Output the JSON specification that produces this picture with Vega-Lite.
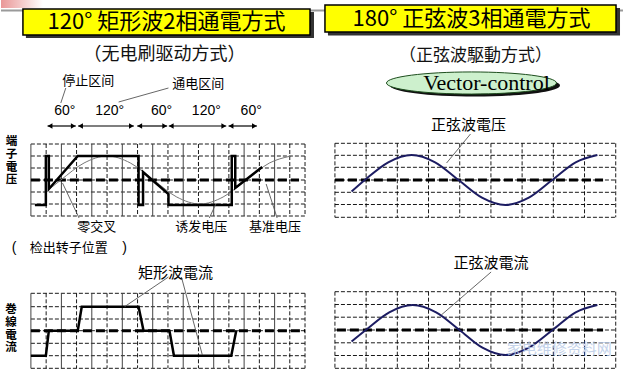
{
  "$schema": "https://vega.github.io/schema/vega-lite/v6.json",
  "width": 624,
  "height": 374,
  "autosize": {"type": "fit", "contains": "padding"},
  "padding": 0,
  "background": "white",
  "view": {"stroke": null},
  "datasets": {
    "shadows": [{"x": 25, "y": 12, "x2": 314, "y2": 38}, {"x": 328, "y": 8, "x2": 621, "y2": 35.5}],
    "boxes": [{"x": 22, "y": 9, "x2": 310, "y2": 35}, {"x": 325, "y": 5, "x2": 617, "y2": 32}],
    "topline": [{"x": 0, "x2": 624, "y": 10.5}],
    "deco": [{"x": 0, "x2": 42, "y": 0, "y2": 8}],
    "hgrid": [
      {"x": 30, "x2": 305, "y": 144}, {"x": 30, "x2": 305, "y": 156}, {"x": 30, "x2": 305, "y": 168}, {"x": 30, "x2": 305, "y": 180}, {"x": 30, "x2": 305, "y": 192}, {"x": 30, "x2": 305, "y": 204}, {"x": 30, "x2": 305, "y": 216},
      {"x": 30, "x2": 305, "y": 293.3}, {"x": 30, "x2": 305, "y": 306.7}, {"x": 30, "x2": 305, "y": 319}, {"x": 30, "x2": 305, "y": 330.7}, {"x": 30, "x2": 305, "y": 343.3}, {"x": 30, "x2": 305, "y": 355.7}, {"x": 30, "x2": 305, "y": 368.3},
      {"x": 335, "x2": 616.7, "y": 143.3}, {"x": 335, "x2": 616.7, "y": 155.3}, {"x": 335, "x2": 616.7, "y": 167.3}, {"x": 335, "x2": 616.7, "y": 180}, {"x": 335, "x2": 616.7, "y": 192.3}, {"x": 335, "x2": 616.7, "y": 204.5}, {"x": 335, "x2": 616.7, "y": 217.3},
      {"x": 335, "x2": 616.7, "y": 291.7}, {"x": 335, "x2": 616.7, "y": 304.5}, {"x": 335, "x2": 616.7, "y": 317.2}, {"x": 335, "x2": 616.7, "y": 330}, {"x": 335, "x2": 616.7, "y": 342.8}, {"x": 335, "x2": 616.7, "y": 355.5}, {"x": 335, "x2": 616.7, "y": 368.3}
    ],
    "vsolid": [
      {"x": 30, "y": 144, "y2": 216}, {"x": 60.6, "y": 144, "y2": 216}, {"x": 91.1, "y": 144, "y2": 216}, {"x": 121.7, "y": 144, "y2": 216}, {"x": 152.2, "y": 144, "y2": 216}, {"x": 182.8, "y": 144, "y2": 216}, {"x": 213.4, "y": 144, "y2": 216}, {"x": 243.9, "y": 144, "y2": 216}, {"x": 274.5, "y": 144, "y2": 216},
      {"x": 30, "y": 293.3, "y2": 368.3}, {"x": 60.6, "y": 293.3, "y2": 368.3}, {"x": 91.1, "y": 293.3, "y2": 368.3}, {"x": 121.7, "y": 293.3, "y2": 368.3}, {"x": 152.2, "y": 293.3, "y2": 368.3}, {"x": 182.8, "y": 293.3, "y2": 368.3}, {"x": 213.4, "y": 293.3, "y2": 368.3}, {"x": 243.9, "y": 293.3, "y2": 368.3}, {"x": 274.5, "y": 293.3, "y2": 368.3}
    ],
    "vdash": [
      {"x": 45.3, "y": 144, "y2": 216}, {"x": 75.8, "y": 144, "y2": 216}, {"x": 106.4, "y": 144, "y2": 216}, {"x": 137, "y": 144, "y2": 216}, {"x": 167.5, "y": 144, "y2": 216}, {"x": 198.1, "y": 144, "y2": 216}, {"x": 228.6, "y": 144, "y2": 216}, {"x": 259.2, "y": 144, "y2": 216}, {"x": 289.7, "y": 144, "y2": 216}, {"x": 305, "y": 144, "y2": 216},
      {"x": 45.3, "y": 293.3, "y2": 368.3}, {"x": 75.8, "y": 293.3, "y2": 368.3}, {"x": 106.4, "y": 293.3, "y2": 368.3}, {"x": 137, "y": 293.3, "y2": 368.3}, {"x": 167.5, "y": 293.3, "y2": 368.3}, {"x": 198.1, "y": 293.3, "y2": 368.3}, {"x": 228.6, "y": 293.3, "y2": 368.3}, {"x": 259.2, "y": 293.3, "y2": 368.3}, {"x": 289.7, "y": 293.3, "y2": 368.3}, {"x": 305, "y": 293.3, "y2": 368.3},
      {"x": 335, "y": 143.3, "y2": 217.3}, {"x": 366.3, "y": 143.3, "y2": 217.3}, {"x": 397.6, "y": 143.3, "y2": 217.3}, {"x": 428.9, "y": 143.3, "y2": 217.3}, {"x": 460.2, "y": 143.3, "y2": 217.3}, {"x": 491.5, "y": 143.3, "y2": 217.3}, {"x": 522.8, "y": 143.3, "y2": 217.3}, {"x": 554.1, "y": 143.3, "y2": 217.3}, {"x": 585.4, "y": 143.3, "y2": 217.3}, {"x": 616.7, "y": 143.3, "y2": 217.3},
      {"x": 335, "y": 291.7, "y2": 368.3}, {"x": 366.3, "y": 291.7, "y2": 368.3}, {"x": 397.6, "y": 291.7, "y2": 368.3}, {"x": 428.9, "y": 291.7, "y2": 368.3}, {"x": 460.2, "y": 291.7, "y2": 368.3}, {"x": 491.5, "y": 291.7, "y2": 368.3}, {"x": 522.8, "y": 291.7, "y2": 368.3}, {"x": 554.1, "y": 291.7, "y2": 368.3}, {"x": 585.4, "y": 291.7, "y2": 368.3}, {"x": 616.7, "y": 291.7, "y2": 368.3}
    ],
    "centers": [{"x": 30, "x2": 299, "y": 180}, {"x": 30, "x2": 305, "y": 330.7}, {"x": 335, "x2": 604, "y": 180}, {"x": 337, "x2": 604, "y": 330}],
    "refsine": [
      {"i": 0, "x": 48, "y": 189.5}, {"i": 1, "x": 60, "y": 180}, {"i": 2, "x": 83.3, "y": 163}, {"i": 3, "x": 106.5, "y": 156}, {"i": 4, "x": 129.8, "y": 163}, {"i": 5, "x": 153, "y": 180}, {"i": 6, "x": 176.3, "y": 197}, {"i": 7, "x": 199.5, "y": 204}, {"i": 8, "x": 222.8, "y": 197}, {"i": 9, "x": 246, "y": 180}, {"i": 10, "x": 269.3, "y": 163}, {"i": 11, "x": 290, "y": 156.2}
    ],
    "waveTL": [
      {"i": 0, "x": 34, "y": 205}, {"i": 1, "x": 45, "y": 205}, {"i": 2, "x": 45, "y": 156}, {"i": 3, "x": 48, "y": 156}, {"i": 4, "x": 48, "y": 189}, {"i": 5, "x": 77, "y": 156}, {"i": 6, "x": 138, "y": 156}, {"i": 7, "x": 138, "y": 205}, {"i": 8, "x": 142.5, "y": 205}, {"i": 9, "x": 142.5, "y": 172}, {"i": 10, "x": 168, "y": 194}, {"i": 11, "x": 168, "y": 205}, {"i": 12, "x": 231.5, "y": 205}, {"i": 13, "x": 231.5, "y": 156}, {"i": 14, "x": 235, "y": 156}, {"i": 15, "x": 235, "y": 188}, {"i": 16, "x": 262, "y": 167}
    ],
    "waveBL": [
      {"i": 0, "x": 30, "y": 355.7}, {"i": 1, "x": 45, "y": 355.7}, {"i": 2, "x": 48, "y": 330.7}, {"i": 3, "x": 77, "y": 330.7}, {"i": 4, "x": 81, "y": 306.7}, {"i": 5, "x": 138, "y": 306.7}, {"i": 6, "x": 143, "y": 330.7}, {"i": 7, "x": 169, "y": 330.7}, {"i": 8, "x": 173.5, "y": 355.7}, {"i": 9, "x": 231, "y": 355.7}, {"i": 10, "x": 236, "y": 330.7}
    ],
    "sines": [
      {"p": "v", "i": 0, "x": 351.7, "y": 191.5}, {"p": "v", "i": 1, "x": 365, "y": 180}, {"p": "v", "i": 2, "x": 388.5, "y": 162.3}, {"p": "v", "i": 3, "x": 412, "y": 155}, {"p": "v", "i": 4, "x": 435.5, "y": 162.3}, {"p": "v", "i": 5, "x": 459, "y": 180}, {"p": "v", "i": 6, "x": 482.5, "y": 197.7}, {"p": "v", "i": 7, "x": 506, "y": 205}, {"p": "v", "i": 8, "x": 529.5, "y": 197.7}, {"p": "v", "i": 9, "x": 553, "y": 180}, {"p": "v", "i": 10, "x": 576.5, "y": 162.3}, {"p": "v", "i": 11, "x": 598.3, "y": 155},
      {"p": "c", "i": 0, "x": 351.7, "y": 341.5}, {"p": "c", "i": 1, "x": 366, "y": 330}, {"p": "c", "i": 2, "x": 389.5, "y": 312.3}, {"p": "c", "i": 3, "x": 413, "y": 305}, {"p": "c", "i": 4, "x": 436.5, "y": 312.3}, {"p": "c", "i": 5, "x": 460, "y": 330}, {"p": "c", "i": 6, "x": 483, "y": 347.7}, {"p": "c", "i": 7, "x": 506, "y": 355}, {"p": "c", "i": 8, "x": 529.5, "y": 347.7}, {"p": "c", "i": 9, "x": 553.3, "y": 330}, {"p": "c", "i": 10, "x": 576.5, "y": 312.3}, {"p": "c", "i": 11, "x": 598.3, "y": 305}
    ],
    "leaders": [
      {"x": 65, "y": 88, "x2": 60, "y2": 103},
      {"x": 168, "y": 88, "x2": 118, "y2": 102},
      {"x": 61.7, "y": 183, "x2": 78.3, "y2": 218},
      {"x": 216, "y": 203, "x2": 209, "y2": 218},
      {"x": 266, "y": 184, "x2": 277, "y2": 218},
      {"x": 168, "y": 277, "x2": 124, "y2": 306.7},
      {"x": 181, "y": 277, "x2": 202, "y2": 355},
      {"x": 471, "y": 134, "x2": 447, "y2": 163},
      {"x": 491.7, "y": 272, "x2": 441.7, "y2": 315}
    ],
    "arrows": [
      {"x": 46.7, "x2": 75, "y": 126}, {"x": 77.3, "x2": 133.3, "y": 126}, {"x": 136.7, "x2": 166.7, "y": 126}, {"x": 168.3, "x2": 226, "y": 126}, {"x": 228.3, "x2": 256.7, "y": 126}
    ],
    "degrees": [
      {"t": "60°", "x": 64, "y": 111}, {"t": "120°", "x": 109, "y": 111}, {"t": "60°", "x": 161, "y": 111}, {"t": "120°", "x": 206, "y": 111}, {"t": "60°", "x": 251, "y": 111}
    ],
    "titles": [
      {"t": "120°  矩形波2相通電方式", "x": 166, "y": 22},
      {"t": "180°  正弦波3相通電方式", "x": 472, "y": 19}
    ],
    "subtitleL": [{"t": "（无电刷驱动方式）", "x": 164, "y": 55}],
    "subtitleR": [{"t": "（正弦波駆動方式）", "x": 476, "y": 56}],
    "small": [
      {"t": "停止区间", "x": 87.5, "y": 80.5},
      {"t": "通电区间", "x": 198, "y": 83.5},
      {"t": "零交叉", "x": 96, "y": 227},
      {"t": "诱发电压", "x": 201, "y": 227},
      {"t": "基准电压", "x": 275, "y": 227},
      {"t": "检出转子位置", "x": 68, "y": 248}
    ],
    "parens": [{"t": "(", "x": 13, "y": 248}, {"t": ")", "x": 124, "y": 248}],
    "mid": [
      {"t": "矩形波電流", "x": 175, "y": 272.5},
      {"t": "正弦波電压", "x": 469, "y": 125},
      {"t": "正弦波電流", "x": 491.5, "y": 262.5}
    ],
    "vert": [
      {"t": "端\n子\n電\n压", "x": 10.5, "y": 142},
      {"t": "巻\n線\n電\n流", "x": 10, "y": 310}
    ],
    "ellshadow": [{"x": 475.5, "y": 85.5}],
    "ellipse": [{"x": 472, "y": 83}],
    "vector": [{"t": "Vector-control", "x": 487, "y": 82.5}],
    "watermark": [{"t": "家电维修资料网", "x": 560, "y": 349}]
  },
  "encoding": {
    "x": {"field": "x", "type": "quantitative", "scale": {"domain": [0, 624], "nice": false, "zero": false}, "axis": null},
    "y": {"field": "y", "type": "quantitative", "scale": {"domain": [374, 0], "nice": false, "zero": false}, "axis": null}
  },
  "layer": [
    {"data": {"name": "deco"}, "mark": {"type": "rect", "color": {"gradient": "linear", "x1": 0, "y1": 0, "x2": 1, "y2": 0, "stops": [{"offset": 0, "color": "#e06a6a"}, {"offset": 1, "color": "#ffffff"}]}, "opacity": 0.7}, "encoding": {"x2": {"field": "x2"}, "y2": {"field": "y2"}}},
    {"data": {"name": "topline"}, "mark": {"type": "rule", "color": "#9a9a9a", "strokeWidth": 2}, "encoding": {"x2": {"field": "x2"}}},
    {"data": {"name": "shadows"}, "mark": {"type": "rect", "color": "#333333"}, "encoding": {"x2": {"field": "x2"}, "y2": {"field": "y2"}}},
    {"data": {"name": "boxes"}, "mark": {"type": "rect", "fill": "#ffff00", "stroke": "#000000", "strokeWidth": 1.5}, "encoding": {"x2": {"field": "x2"}, "y2": {"field": "y2"}}},
    {"data": {"name": "titles"}, "mark": {"type": "text", "font": "Noto Sans CJK JP", "fontSize": 22, "align": "center", "baseline": "middle", "color": "#000000"}, "encoding": {"text": {"field": "t"}}},
    {"data": {"name": "subtitleL"}, "mark": {"type": "text", "font": "Noto Sans CJK SC", "fontSize": 18, "align": "center", "baseline": "middle", "color": "#111111"}, "encoding": {"text": {"field": "t"}}},
    {"data": {"name": "subtitleR"}, "mark": {"type": "text", "font": "Noto Sans CJK JP", "fontSize": 17, "align": "center", "baseline": "middle", "color": "#111111"}, "encoding": {"text": {"field": "t"}}},
    {"data": {"name": "ellshadow"}, "mark": {"type": "point", "shape": "M-1,0A1,0.13,0,1,1,1,0A1,0.13,0,1,1,-1,0Z", "size": 28900, "filled": true, "color": "#111111", "opacity": 1}, "encoding": {}},
    {"data": {"name": "ellipse"}, "mark": {"type": "point", "shape": "M-1,0A1,0.13,0,1,1,1,0A1,0.13,0,1,1,-1,0Z", "size": 28900, "filled": true, "fill": "#cdf0cd", "stroke": "#1d4d1d", "strokeWidth": 1, "opacity": 1}, "encoding": {}},
    {"data": {"name": "vector"}, "mark": {"type": "text", "font": "Liberation Serif", "fontSize": 22, "align": "center", "baseline": "middle", "color": "#000000"}, "encoding": {"text": {"field": "t"}}},
    {"data": {"name": "hgrid"}, "mark": {"type": "rule", "color": "#000000", "strokeWidth": 0.9, "strokeDash": [4, 2]}, "encoding": {"x2": {"field": "x2"}}},
    {"data": {"name": "vsolid"}, "mark": {"type": "rule", "color": "#444444", "strokeWidth": 1}, "encoding": {"y2": {"field": "y2"}}},
    {"data": {"name": "vdash"}, "mark": {"type": "rule", "color": "#000000", "strokeWidth": 0.9, "strokeDash": [4, 2]}, "encoding": {"y2": {"field": "y2"}}},
    {"data": {"name": "centers"}, "mark": {"type": "rule", "color": "#000000", "strokeWidth": 3, "strokeDash": [9, 4]}, "encoding": {"x2": {"field": "x2"}}},
    {"data": {"name": "refsine"}, "mark": {"type": "line", "color": "#777777", "strokeWidth": 1, "interpolate": "monotone"}, "encoding": {"order": {"field": "i"}}},
    {"data": {"name": "waveTL"}, "mark": {"type": "line", "color": "#000000", "strokeWidth": 2.5}, "encoding": {"order": {"field": "i"}}},
    {"data": {"name": "waveBL"}, "mark": {"type": "line", "color": "#000000", "strokeWidth": 2.5}, "encoding": {"order": {"field": "i"}}},
    {"data": {"name": "sines"}, "mark": {"type": "line", "color": "#1c1c62", "strokeWidth": 2, "interpolate": "monotone"}, "encoding": {"order": {"field": "i"}, "detail": {"field": "p"}}},
    {"data": {"name": "leaders"}, "mark": {"type": "rule", "color": "#555555", "strokeWidth": 0.9}, "encoding": {"x2": {"field": "x2"}, "y2": {"field": "y2"}}},
    {"data": {"name": "arrows"}, "mark": {"type": "rule", "color": "#000000", "strokeWidth": 1.2}, "encoding": {"x2": {"field": "x2"}}},
    {"data": {"name": "arrows"}, "mark": {"type": "point", "shape": "triangle-left", "size": 30, "filled": true, "color": "#000000", "opacity": 1, "xOffset": 2.5}, "encoding": {}},
    {"data": {"name": "arrows"}, "mark": {"type": "point", "shape": "triangle-right", "size": 30, "filled": true, "color": "#000000", "opacity": 1, "xOffset": -2.5}, "encoding": {"x": {"field": "x2", "type": "quantitative"}}},
    {"data": {"name": "degrees"}, "mark": {"type": "text", "font": "Liberation Sans", "fontSize": 14, "align": "center", "baseline": "middle", "color": "#000000"}, "encoding": {"text": {"field": "t"}}},
    {"data": {"name": "small"}, "mark": {"type": "text", "font": "Noto Sans CJK SC", "fontSize": 13, "align": "center", "baseline": "middle", "color": "#000000"}, "encoding": {"text": {"field": "t"}}},
    {"data": {"name": "parens"}, "mark": {"type": "text", "font": "Liberation Sans", "fontSize": 14, "align": "center", "baseline": "middle", "color": "#000000"}, "encoding": {"text": {"field": "t"}}},
    {"data": {"name": "mid"}, "mark": {"type": "text", "font": "Noto Sans CJK JP", "fontSize": 15, "align": "center", "baseline": "middle", "color": "#000000"}, "encoding": {"text": {"field": "t"}}},
    {"data": {"name": "vert"}, "mark": {"type": "text", "font": "Noto Sans CJK JP", "fontSize": 11.5, "fontWeight": "bold", "lineBreak": "\n", "lineHeight": 12.8, "align": "center", "baseline": "middle", "color": "#000000"}, "encoding": {"text": {"field": "t"}}},
    {"data": {"name": "watermark"}, "mark": {"type": "text", "font": "Noto Sans CJK SC", "fontSize": 15, "align": "center", "baseline": "middle", "color": "#b5c8e6", "opacity": 0.8}, "encoding": {"text": {"field": "t"}}}
  ]
}
